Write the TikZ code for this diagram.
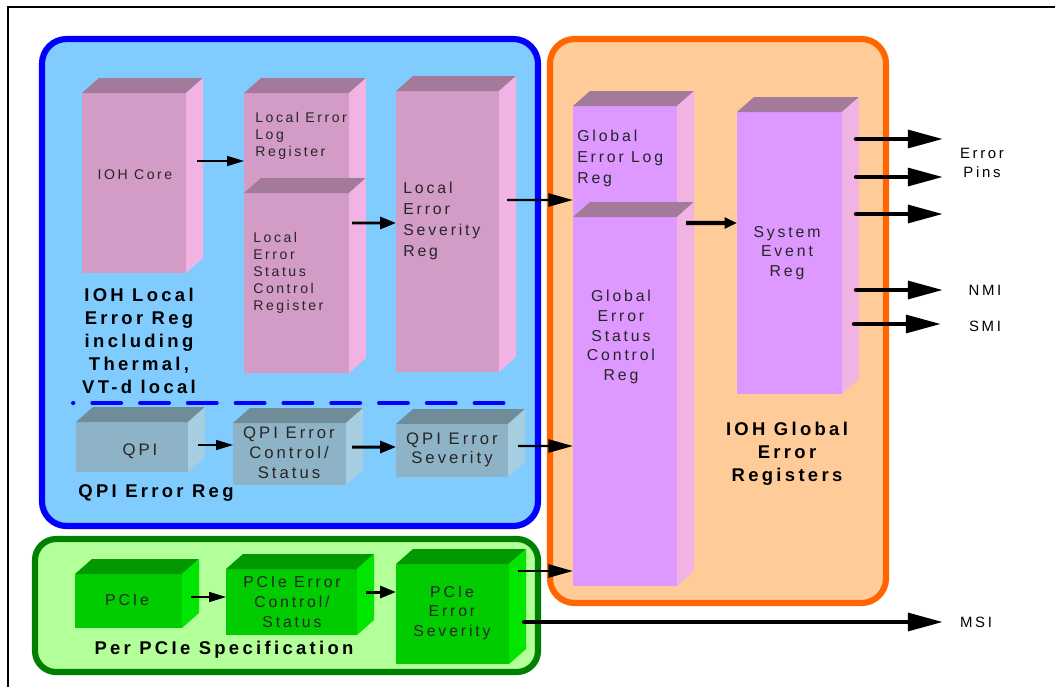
\documentclass[tikz,border=0pt]{standalone}
\usepackage{fontspec}
\newfontfamily\regfont[LetterSpace=18]{Liberation Sans}
\usepackage{tikz}
\usetikzlibrary{arrows.meta,positioning,calc,fit}
\definecolor{iofill}{HTML}{80CCFF}
\definecolor{ioborder}{HTML}{0000FF}
\definecolor{glfill}{HTML}{FFCC99}
\definecolor{glborder}{HTML}{FF6600}
\definecolor{pcfill}{HTML}{B3FF99}
\definecolor{pcborder}{HTML}{008000}
\definecolor{pinkfront}{HTML}{D39CC6}
\definecolor{regtop}{HTML}{A37A99}
\definecolor{regside}{HTML}{F0B3E3}
\definecolor{violetfront}{HTML}{DD99FF}
\definecolor{qpifront}{HTML}{8FB3C6}
\definecolor{qpitop}{HTML}{708C99}
\definecolor{qpiside}{HTML}{A6CDE0}
\definecolor{pcifront}{HTML}{00CC00}
\definecolor{pcitop}{HTML}{009900}
\definecolor{pciside}{HTML}{00E600}
\tikzset{
  area/.style    ={line width=3.5pt,rounded corners=14pt},
  sepline/.style ={ioborder,line width=2.3pt,line cap=round,dash pattern=on 16.4pt off 10.8pt,dash phase=16.2pt},
  front/.style   ={inner sep=0pt,outer sep=0pt},
  pinkreg/.style ={front,fill=pinkfront},
  violetreg/.style={front,fill=violetfront},
  qpireg/.style  ={front,fill=qpifront},
  pcireg/.style  ={front,fill=pcifront},
  regtext/.style ={inner sep=0pt,text=black!85,align=center,font=\regfont\fontsize{9}{11.3}\selectfont},
  smallreg/.style={regtext,align=left,font=\regfont\fontsize{8}{9.6}\selectfont},
  title/.style   ={inner sep=0pt,align=center,font=\regfont\bfseries\fontsize{10.5}{13}\selectfont},
  pinlbl/.style  ={inner sep=0pt,align=center,font=\regfont\fontsize{8.5}{11.3}\selectfont},
  thinarr/.style ={-{Triangle[length=9.6pt,width=5.7pt]},line width=0.85pt},
  midarr/.style  ={-{Triangle[length=9pt,width=6.8pt]},line width=1.7pt},
  linkarr/.style ={-{Triangle[length=14pt,width=7.4pt]},line width=1.4pt},
  sysarr/.style  ={-{Triangle[length=7pt,width=6pt]},line width=2.3pt},
  outarr/.style  ={-{Triangle[length=20pt,width=10pt]},line width=2.5pt,line cap=round},
}
% top and side faces of a register block
\newcommand{\cubefaces}[3]{%
  \fill[fill=#2] (#1.north west) -- ++(17,-15) -- ([shift={(17,-15)}]#1.north east) -- (#1.north east) -- cycle;
  \fill[fill=#3] (#1.north east) -- ++(17,-15) -- ([shift={(17,-15)}]#1.south east) -- (#1.south east) -- cycle;
}

\begin{document}
\begin{tikzpicture}[x=0.02cm,y=-0.02cm]
  \useasboundingbox (0,0) rectangle (1055,687);
  \draw[line width=1.1pt] (8,687) -- (8,7) -- (1055,7);

  % register groups
  \draw[area,draw=ioborder,fill=iofill] (42,39) rectangle (538,526);
  \draw[area,draw=glborder,fill=glfill] (550,39) rectangle (886,603);
  \draw[area,draw=pcborder,fill=pcfill,rounded corners=12pt] (35,539) rectangle (538,672);
  \draw[sepline] (73,403) -- (510,403);

  % block fronts
  \node[pinkreg,fit={(82,93) (186,273)}]    (core) {};
  \node[pinkreg,fit={(244,93) (349,193)}]   (logreg) {};
  \node[pinkreg,fit={(244,193) (349,373)}]  (statreg) {};
  \node[pinkreg,fit={(396,91) (499,372)}]   (sevreg) {};
  \node[violetreg,fit={(573,106) (677,217)}] (glog) {};
  \node[violetreg,fit={(573,217) (677,586)}] (gstat) {};
  \node[violetreg,fit={(737,112) (842,394)}] (sysev) {};
  \node[qpireg,fit={(76,422) (188,472)}]    (qpi) {};
  \node[qpireg,fit={(233,423) (346,485)}]   (qpictl) {};
  \node[qpireg,fit={(396,424) (508,477)}]   (qpisev) {};
  \node[pcireg,fit={(75,574) (182,628)}]    (pcie) {};
  \node[pcireg,fit={(226,569) (357,635)}]   (pcictl) {};
  \node[pcireg,fit={(396,564) (509,664)}]   (pcisev) {};
  \foreach \n/\t/\s in {core/regtop/regside,logreg/regtop/regside,statreg/regtop/regside,
      sevreg/regtop/regside,glog/regtop/regside,gstat/regtop/regside,sysev/regtop/regside,
      qpi/qpitop/qpiside,qpictl/qpitop/qpiside,qpisev/qpitop/qpiside,
      pcie/pcitop/pciside,pcictl/pcitop/pciside,pcisev/pcitop/pciside}{
    \cubefaces{\n}{\t}{\s}
  }

  % block texts
  \node[regtext,font=\regfont\fontsize{8}{9.6}\selectfont] (coretxt) at (135,175) {IOH Core};
  \node[smallreg,anchor=west] (logtxt)  at (255,136) {Local Error\\Log\\Register};
  \node[smallreg,anchor=west] (stattxt) at (253,273) {Local\\Error\\Status\\Control\\Register};
  \node[regtext,align=left,anchor=west,font=\regfont\fontsize{9}{11.9}\selectfont] (sevtxt) at (403,221) {Local\\Error\\Severity\\Reg};
  \node[regtext,align=left,anchor=west,font=\regfont\fontsize{9}{11.9}\selectfont] (glogtxt) at (577,158) {Global\\Error Log\\Reg};
  \node[regtext] (gstattxt) at (621,337) {Global\\Error\\Status\\Control\\Reg};
  \node[regtext] (sysevtxt) at (787,253) {System\\Event\\Reg};
  \node[regtext,font=\regfont\fontsize{9.5}{11.3}\selectfont] (qpitxt)    at (140,451) {QPI};
  \node[regtext,font=\regfont\fontsize{9.5}{11.3}\selectfont] (qpictltxt) at (289,453) {QPI Error\\Control/\\Status};
  \node[regtext,font=\regfont\fontsize{9.5}{11}\selectfont]   (qpisevtxt) at (452,450) {QPI Error\\Severity};
  \node[regtext] (pcietxt)   at (127,600) {PCIe};
  \node[regtext] (pcictltxt) at (292,602) {PCIe Error\\Control/\\Status};
  \node[regtext] (pcisevtxt) at (452,613) {PCIe\\Error\\Severity};

  % group titles
  \node[title] (ioltitle) at (139,341) {IOH Local\\Error Reg\\including\\Thermal,\\VT-d local};
  \node[title] (qpititle) at (156,493) {QPI Error Reg};
  \node[title] (pcititle) at (224,650) {Per PCIe Specification};
  \node[title] (gltitle)  at (787,454) {IOH Global\\Error\\Registers};

  % outputs
  \node[pinlbl] (pins) at (982,163) {Error\\Pins};
  \node[pinlbl] (nmi)  at (985,290) {NMI};
  \node[pinlbl] (smi)  at (985,326) {SMI};
  \node[pinlbl] (msi)  at (976,622) {MSI};
  \coordinate (pinA) at (943,139);
  \coordinate (pinB) at (943,177);
  \coordinate (pinC) at (943,214);
  \coordinate (nmiend) at (943,290);
  \coordinate (smiend) at (941,324);
  \coordinate (msiend) at (943,622);

  % connectors
  \draw[thinarr] ([shift={(11,-22)}]core.east)    -- ([shift={(0,18)}]logreg.west);
  \draw[midarr]  ([shift={(3,-60)}]statreg.east)  -- ([shift={(0,-8.5)}]sevreg.west);
  \draw[linkarr] ([shift={(8,-31.5)}]sevreg.east) -- ([shift={(0,38.5)}]glog.west);
  \draw[sysarr]  ([shift={(9,-178.5)}]gstat.east) -- ([shift={(0,-30)}]sysev.west);
  \draw[thinarr] ([shift={(10,-2)}]qpi.east)      -- ([shift={(0,-9)}]qpictl.west);
  \draw[midarr]  ([shift={(6,-7)}]qpictl.east)    -- ([shift={(0,-3.5)}]qpisev.west);
  \draw[linkarr] ([shift={(10,-4.5)}]qpisev.east) -- ([shift={(0,44.5)}]gstat.west);
  \draw[thinarr] ([shift={(9,-4)}]pcie.east)      -- ([shift={(0,-5)}]pcictl.west);
  \draw[midarr]  ([shift={(9,-10)}]pcictl.east)   -- ([shift={(0,-22)}]pcisev.west);
  \draw[linkarr] ([shift={(9,-43)}]pcisev.east)   -- ([shift={(0,169.5)}]gstat.west);
  \draw[outarr]  ([shift={(15,8)}]pcisev.east)    -- (msiend);
  \draw[outarr]  ([shift={(14,-114)}]sysev.east)  -- (pinA);
  \draw[outarr]  ([shift={(14,-76)}]sysev.east)   -- (pinB);
  \draw[outarr]  ([shift={(14,-39)}]sysev.east)   -- (pinC);
  \draw[outarr]  ([shift={(14,37)}]sysev.east)    -- (nmiend);
  \draw[outarr]  ([shift={(12,71)}]sysev.east)    -- (smiend);
\end{tikzpicture}
\end{document}
